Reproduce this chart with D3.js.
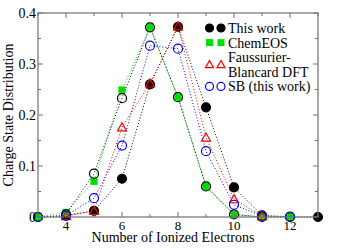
<!DOCTYPE html>
<html>
<head>
<meta charset="utf-8">
<script src="https://cdn.jsdelivr.net/npm/d3@7"></script>
<style>
  body { margin: 0; background: #fff; }
  text { font-family: "Liberation Serif", "Times New Roman", serif; }
</style>
</head>
<body>
<svg id="chart" width="351" height="248"></svg>
<script>
// ionized electrons on x
const electrons = [3, 4, 5, 6, 7, 8, 9, 10, 11, 12, 13];

// series values
const thisWork = [0, 0.003, 0.012, 0.075, 0.26, 0.373, 0.215, 0.058, 0.003, 0, 0];
const chemEOS = [0, 0.009, 0.07, 0.249, 0.372, 0.235, 0.06, 0.005, 0, 0];
const chemOpen = [null, 0.005, 0.085, 0.233, 0.372, 0.235, 0.06, 0.005, 0];
const faussurier = [null, 0.002, 0.012, 0.176, 0.262, 0.374, 0.156, 0.035, 0.002];
const sbThisWork = [0, 0.002, 0.037, 0.14, 0.336, 0.33, 0.129, 0.024, 0.002, 0.001];

const xTicks = [4, 6, 8, 10, 12];
const yTicks = [0, 0.1, 0.2, 0.3, 0.4];

const svg = d3.select("#chart");
const margin = { top: 13, right: 33, bottom: 31, left: 38 };
const w = 351 - margin.left - margin.right;
const h = 248 - margin.top - margin.bottom;

const x = d3.scaleLinear().domain([3, 13]).range([0, w]);
const y = d3.scaleLinear().domain([0, 0.4]).range([h, 0]);

const g = svg.append("g").attr("transform", `translate(${margin.left},${margin.top})`);

const green = "#00e000";

// series: lines first, then markers
const series = [
  { vals: thisWork, color: "#000", shape: "circle", fill: "#000", r: 4.5 },
  { vals: chemEOS, color: green, shape: "square", fill: green, r: 3.6 },
  { vals: chemOpen, color: "#000", shape: "circle", fill: "none", r: 4.5 },
  { vals: faussurier, color: "#ff0000", shape: "triangle", fill: "none", r: 4.5 },
  { vals: sbThisWork, color: "#0000ff", shape: "circle", fill: "none", r: 4.5 },
];

const line = d3.line()
  .defined((d) => d.v !== null)
  .x((d) => x(d.x))
  .y((d) => y(d.v));

series.forEach((s) => {
  s.pts = s.vals.map((v, i) => ({ x: electrons[i], v: v }));
  g.append("path")
    .attr("d", line(s.pts))
    .attr("fill", "none")
    .attr("stroke", s.color)
    .attr("stroke-width", 1)
    .attr("stroke-dasharray", "1,2");
});

function drawMarker(sel, s, cx, cy) {
  if (s.shape === "circle") {
    sel.append("circle")
      .attr("cx", cx).attr("cy", cy).attr("r", s.r)
      .attr("fill", s.fill).attr("stroke", s.color).attr("stroke-width", 1.2);
  } else if (s.shape === "square") {
    sel.append("rect")
      .attr("x", cx - s.r).attr("y", cy - s.r)
      .attr("width", s.r * 2).attr("height", s.r * 2)
      .attr("fill", s.fill);
  } else {
    const r = s.r;
    sel.append("path")
      .attr("d", `M${cx},${cy - r} L${cx + r},${cy + r * 0.8} L${cx - r},${cy + r * 0.8} Z`)
      .attr("fill", s.fill).attr("stroke", s.color).attr("stroke-width", 1.2);
  }
}

series.forEach((s) => {
  s.pts.filter((d) => d.v !== null).forEach((d) => drawMarker(g, s, x(d.x), y(d.v)));
});

// frame and ticks (inward, mirrored)
const frame = "#707070";
g.append("rect").attr("width", w).attr("height", h)
  .attr("fill", "none").attr("stroke", frame).attr("stroke-width", 1.2);

const xMinor = d3.range(3, 14, 1);
const yMinor = d3.range(0, 0.401, 0.05);
xMinor.forEach((t) => {
  const len = t % 2 === 0 ? 5 : 3;
  [[h, h - len], [0, len]].forEach(([a, b]) =>
    g.append("line").attr("x1", x(t)).attr("x2", x(t)).attr("y1", a).attr("y2", b)
      .attr("stroke", frame).attr("stroke-width", 1));
});
yMinor.forEach((t, i) => {
  const len = i % 2 === 0 ? 5 : 3;
  [[0, len], [w, w - len]].forEach(([a, b]) =>
    g.append("line").attr("x1", a).attr("x2", b).attr("y1", y(t)).attr("y2", y(t))
      .attr("stroke", frame).attr("stroke-width", 1));
});

g.selectAll(".xl").data(xTicks).enter().append("text")
  .attr("x", (d) => x(d)).attr("y", h + 12.5)
  .attr("text-anchor", "middle").attr("font-size", 13)
  .text((d) => d);

g.selectAll(".yl").data(yTicks).enter().append("text")
  .attr("x", -2).attr("y", (d) => y(d) + 5)
  .attr("text-anchor", "end").attr("font-size", 14)
  .text((d) => (d === 0 ? "0" : d3.format(".1f")(d)));

svg.append("text")
  .attr("x", margin.left + w / 2 - 5).attr("y", 242)
  .attr("text-anchor", "middle").attr("font-size", 14)
  .text("Number of Ionized Electrons");

svg.append("text")
  .attr("transform", `translate(13,${margin.top + h / 2}) rotate(-90)`)
  .attr("text-anchor", "middle").attr("font-size", 14)
  .text("Charge State Distribution");

// legend
const legend = [
  { s: series[0], lines: ["This work"] },
  { s: series[1], lines: ["ChemEOS"] },
  { s: series[3], lines: ["Faussurier-", "Blancard DFT"] },
  { s: series[4], lines: ["SB (this work)"] },
];
const lg = svg.append("g");
let ly = 28;
legend.forEach((e) => {
  const my = ly + (e.lines.length - 1) * 7.3;
  const ms = Object.assign({}, e.s, { r: e.s.shape === "square" ? 3.5 : 4 });
  drawMarker(lg, ms, 209.5, my);
  drawMarker(lg, ms, 221, my);
  e.lines.forEach((t, k) => {
    lg.append("text").attr("x", 228).attr("y", ly + 5 + k * 14.6)
      .attr("font-size", 14).text(t);
  });
  ly += 14.6 * e.lines.length;
});
</script>
</body>
</html>
